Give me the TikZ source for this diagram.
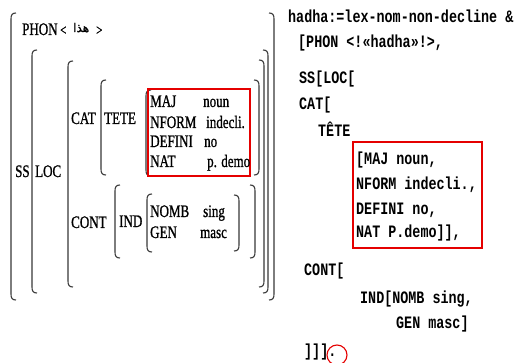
\documentclass[tikz,border=0pt]{standalone}
\usepackage{fontspec}
\usepackage{graphicx}
\setmainfont[FakeBold=1.2]{Liberation Serif}
\newfontfamily\monof{Liberation Mono}
\newfontfamily\arabicfont[Script=Arabic,FakeBold=1.5]{DejaVu Sans}
\TeXXeTstate=1
\newcommand{\ys}[1]{\scalebox{1}[1.35]{#1}}
\newcommand{\ym}[1]{\scalebox{1}[1.3]{#1}}
\newcommand{\lbr}[3]{\draw[brk] (#1+5,#2) .. controls (#1+1,#2) and (#1,#2+2) .. (#1,#2+6) -- (#1,#3-6) .. controls (#1,#3-2) and (#1+1,#3) .. (#1+5,#3);}
\newcommand{\rbr}[3]{\draw[brk] (#1-5,#2) .. controls (#1-1,#2) and (#1,#2+2) .. (#1,#2+6) -- (#1,#3-6) .. controls (#1,#3-2) and (#1-1,#3) .. (#1-5,#3);}
\tikzset{
  brk/.style={draw=black!78, line width=1.1pt},
  lt/.style={anchor=base west, inner sep=0pt, font=\fontsize{13}{15}\selectfont},
  mt/.style={anchor=base west, inner sep=0pt, font=\fontsize{13.4}{15}\selectfont\monof\bfseries},
  redbox/.style={draw=red!90!black, line width=1.3pt},
}
\begin{document}
\begin{tikzpicture}[x=1pt,y=-1pt]
\useasboundingbox (0,0) rectangle (519,363);
% ---- left: AVM brackets
\lbr{11}{13}{300}
\rbr{274}{13}{300}
\lbr{32}{50}{293}
\rbr{268}{50}{293}
\lbr{68}{61}{287}
\rbr{264}{60}{287}
\lbr{101}{80}{175}
\rbr{259}{80}{175}
\lbr{146}{90}{176}
\lbr{115}{185}{258}
\rbr{255}{185}{258}
\lbr{147}{194}{252}
\rbr{239}{195}{251}
\draw[redbox] (148,89) rectangle (250,176);
% ---- left: labels
\node[lt] (phon) at (22,35) {\ys{PHON}};
\node[lt] (lt1) at (60,35) {\ys{\fontsize{11}{12}\selectfont<}};
\node[lt] (ar) at (73,32) {\fontsize{12}{14}\selectfont\arabicfont\beginR هذا\endR};
\node[lt] (gt1) at (96,35) {\ys{\fontsize{11}{12}\selectfont>}};
\node[lt] (ss) at (15,177) {\ys{SS}};
\node[lt] (loc) at (35,177) {\ys{LOC}};
\node[lt] (cat) at (71,124) {\ys{CAT}};
\node[lt] (tete) at (104,124) {\ys{TETE}};
\node[lt] (maj) at (150,107) {\ys{MAJ}};
\node[lt] (noun) at (203,107) {\ys{noun}};
\node[lt] (nform) at (150,128) {\ys{NFORM}};
\node[lt] (indecli) at (206,128) {\ys{indecli.}};
\node[lt] (defini) at (150,147) {\ys{DEFINI}};
\node[lt] (no) at (204,147) {\ys{no}};
\node[lt] (nat) at (150,167) {\ys{NAT}};
\node[lt] (pdemo) at (207,167) {\ys{p. demo}};
\node[lt] (cont) at (71,228) {\ys{CONT}};
\node[lt] (ind) at (119,227) {\ys{IND}};
\node[lt] (nomb) at (150,217) {\ys{NOMB}};
\node[lt] (sing) at (203,217) {\ys{sing}};
\node[lt] (gen) at (150,238) {\ys{GEN}};
\node[lt] (masc) at (200,238) {\ys{masc}};
% ---- right: code
\node[mt] (c1) at (288,23) {\ym{hadha:=lex-nom-non-decline \&}};
\node[mt] (c2) at (298,48) {\ym{[PHON <!«hadha»!>,}};
\node[mt] (c3) at (299,84) {\ym{SS[LOC[}};
\node[mt] (c4) at (299,110) {\ym{CAT[}};
\node[mt] (c5) at (318,137) {\ym{TÊTE}};
\node[mt] (c6) at (356,165) {\ym{[MAJ noun,}};
\node[mt] (c7) at (356,190) {\ym{NFORM indecli.,}};
\node[mt] (c8) at (356,215) {\ym{DEFINI no,}};
\node[mt] (c9) at (356,238) {\ym{NAT P.demo]],}};
\node[mt] (c10) at (304,276) {\ym{CONT[}};
\node[mt] (c11) at (360,303) {\ym{IND[NOMB sing,}};
\node[mt] (c12) at (396,328) {\ym{GEN masc]}};
\node[mt] (c13) at (304,356) {\ym{]]].}};
\draw[redbox] (353,142) rectangle (482,248);
\node[draw=red!90!black, line width=1.1pt, circle, minimum size=20pt, inner sep=0pt] (circ) at (337,355) {};
\end{tikzpicture}
\end{document}
